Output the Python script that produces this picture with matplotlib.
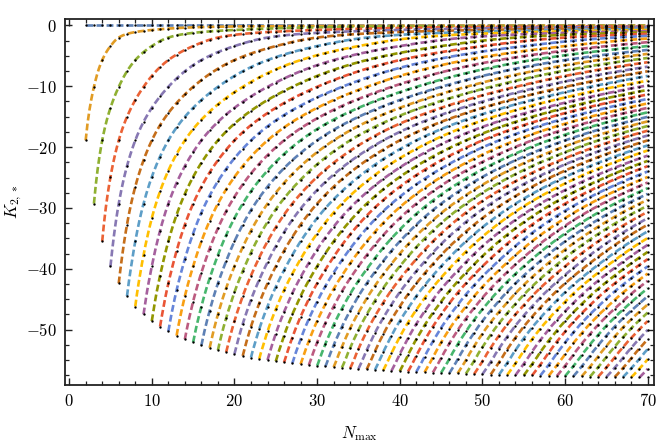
import numpy as np
import matplotlib
matplotlib.use("Agg")
import matplotlib.pyplot as plt
from matplotlib.ticker import MultipleLocator, FuncFormatter

plt.rcParams["mathtext.fontset"] = "cm"
plt.rcParams["font.family"] = ["DejaVu Serif"]

# ---------------- data ----------------
n_first = 2
n_last = 70
# K_{2,*} profile as function of the ratio j / N_max
profile_x = [0.0, 0.05, 0.10, 1/7, 1/6, 1/5, 1/4, 1/3, 1/2, 2/3, 3/4, 4/5, 5/6,
             6/7, 7/8, 8/9, 9/10, 10/11, 11/12, 12/13, 13/14, 14/15, 15/16,
             16/17, 17/18, 18/19, 19/20, 21/22, 23/24, 25/26, 27/28, 29/30,
             33/34, 37/38, 41/42, 45/46, 49/50, 54/55, 59/60, 69/70, 1.0]
profile_k = [0.0, -0.18, -0.75, -1.4, -2.0, -3.4, -5.7, -10.1, -18.9, -29.3,
             -35.5, -39.6, -42.4, -44.5, -46.2, -47.5, -48.6, -49.5, -50.3,
             -51.0, -51.6, -52.1, -52.6, -53.0, -53.4, -53.7, -54.0, -54.6,
             -55.0, -55.4, -55.7, -55.95, -56.35, -56.7, -56.95, -57.15,
             -57.35, -57.5, -57.65, -57.85, -58.2]
palette = ["#5E81B5", "#E19C24", "#8FB032", "#EB6235", "#8778B3", "#C56E1A",
           "#5D9EC7", "#FFBF00", "#A5609D", "#929600", "#E95536", "#6685D9",
           "#F89F13", "#BC5B80", "#47B66D"]
x_ticks = [0, 10, 20, 30, 40, 50, 60, 70]
y_ticks = [0, -10, -20, -30, -40, -50]


def pchip(xk, yk, x):
    xk = np.asarray(xk, float)
    yk = np.asarray(yk, float)
    h = np.diff(xk)
    delta = np.diff(yk) / h
    d = np.zeros_like(yk)
    for k in range(1, len(xk) - 1):
        if delta[k - 1] * delta[k] <= 0:
            d[k] = 0.0
        else:
            w1 = 2 * h[k] + h[k - 1]
            w2 = h[k] + 2 * h[k - 1]
            d[k] = (w1 + w2) / (w1 / delta[k - 1] + w2 / delta[k])
    d[0] = 0.0
    d[-1] = delta[-1]
    x = np.asarray(x, float)
    idx = np.clip(np.searchsorted(xk, x) - 1, 0, len(xk) - 2)
    t = (x - xk[idx]) / h[idx]
    h00 = 2 * t**3 - 3 * t**2 + 1
    h10 = t**3 - 2 * t**2 + t
    h01 = -2 * t**3 + 3 * t**2
    h11 = t**3 - t**2
    return (h00 * yk[idx] + h10 * h[idx] * d[idx] + h01 * yk[idx + 1]
            + h11 * h[idx] * d[idx + 1])


fig = plt.figure(figsize=(6.64, 4.42), dpi=100)
ax = fig.add_axes([65 / 664, 1 - 385 / 442, (654 - 65) / 664, (385 - 19) / 442])

dot_x, dot_y = [], []
for j in range(0, n_last):
    n0 = max(j + 1, n_first)
    nn = np.linspace(n0, n_last, 300)
    kk = pchip(profile_x, profile_k, j / nn)
    ax.plot(nn, kk, color=palette[j % len(palette)], lw=1.9,
            dashes=(2.6, 1.2), dash_capstyle="butt", zorder=2)
    ni = np.arange(n0, n_last + 1)
    dot_x.extend(ni)
    dot_y.extend(pchip(profile_x, profile_k, j / ni))

ax.plot(dot_x, dot_y, "o", color="black", ms=1.7, mew=0, zorder=3)

ax.set_xlim(-0.5, 70.76)
ax.set_ylim(-59.1, 1.05)

ax.xaxis.set_major_locator(MultipleLocator(10))
ax.xaxis.set_minor_locator(MultipleLocator(2))
ax.yaxis.set_major_locator(MultipleLocator(10))
ax.yaxis.set_minor_locator(MultipleLocator(2.5))
fmt = FuncFormatter(lambda v, p: r"$%d$" % int(round(v)))
ax.xaxis.set_major_formatter(fmt)
ax.yaxis.set_major_formatter(fmt)
ax.tick_params(which="both", direction="in", top=True, right=True,
               color="#222222", labelsize=12)
ax.tick_params(which="major", length=5, width=1.0, pad=6)
ax.tick_params(which="minor", length=3, width=0.9)
for s in ax.spines.values():
    s.set_linewidth(1.3)
    s.set_color("#222222")

ax.set_xlabel(r"$N_{\max}$", fontsize=12)
ax.set_ylabel(r"$K_{2,*}$", fontsize=12)
ax.xaxis.set_label_coords(0.5, -0.108)
ax.yaxis.set_label_coords(-0.07, 0.5)

fig.savefig("out.png", dpi=100)
